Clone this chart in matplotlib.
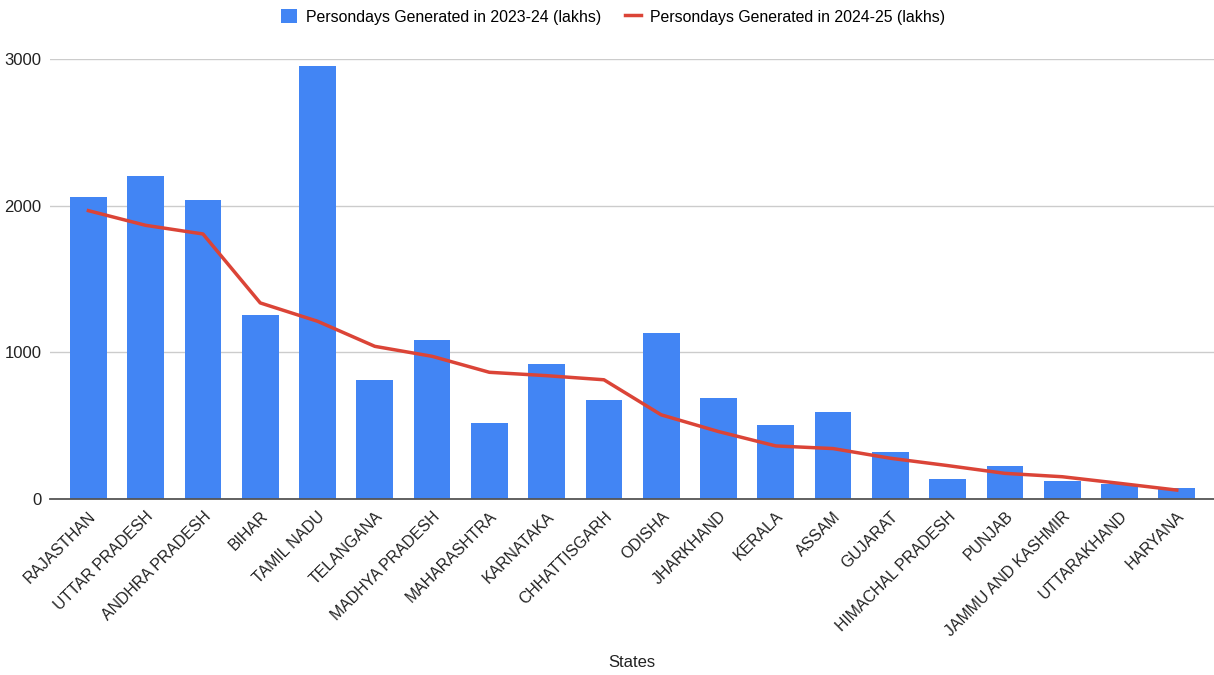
import numpy as np
import matplotlib.pyplot as plt

plt.rcParams['font.family'] = ['Liberation Sans', 'DejaVu Sans']

states = ['RAJASTHAN', 'UTTAR PRADESH', 'ANDHRA PRADESH', 'BIHAR', 'TAMIL NADU',
          'TELANGANA', 'MADHYA PRADESH', 'MAHARASHTRA', 'KARNATAKA', 'CHHATTISGARH',
          'ODISHA', 'JHARKHAND', 'KERALA', 'ASSAM', 'GUJARAT',
          'HIMACHAL PRADESH', 'PUNJAB', 'JAMMU AND KASHMIR', 'UTTARAKHAND', 'HARYANA']

# persondays in lakhs
pd_2324 = [2057, 2203, 2039, 1256, 2951, 813, 1085, 517, 923, 677,
           1133, 688, 508, 590, 321, 139, 223, 123, 105, 75]
pd_2425 = [1966, 1866, 1807, 1337, 1212, 1041, 973, 864, 841, 813,
           574, 460, 362, 344, 278, 228, 175, 152, 107, 61]

x = np.arange(len(states))

fig = plt.figure(figsize=(12.14, 6.75), dpi=100)
ax = fig.add_axes([0.0412, 0.2607, 0.9588, 0.6519])

b = ax.bar(x, pd_2324, width=0.64, color='#4285F4', label='Persondays Generated in 2023-24 (lakhs)', zorder=2)
l, = ax.plot(x, pd_2425, color='#DB4437', lw=2.5, label='Persondays Generated in 2024-25 (lakhs)', zorder=3)

ax.set_ylim(0, 3000)
ax.set_xlim(-0.67, 19.65)
ax.set_yticks([0, 1000, 2000, 3000])
ax.yaxis.grid(True, color='#cccccc', lw=1)
ax.set_axisbelow(True)
for s in ['left', 'right', 'top']:
    ax.spines[s].set_visible(False)
ax.spines['bottom'].set_color('#555555')
ax.spines['bottom'].set_linewidth(1.3)
ax.tick_params(axis='y', length=0, labelsize=12, colors='#222222', pad=6)
ax.tick_params(axis='x', length=0, labelsize=11.4, colors='#222222', pad=7)
ax.set_xticks(x)
ax.set_xticklabels(states, rotation=45, ha='right', rotation_mode='anchor')
ax.set_xlabel('States', fontsize=12, color='#222222')
ax.xaxis.set_label_coords(0.5, -0.355)

fig.legend([b, l], [b.get_label(), l.get_label()],
           loc='center', bbox_to_anchor=(0.505, 0.975), ncol=2, frameon=False,
           fontsize=11.4, handlelength=1.0, handleheight=1.0, columnspacing=1.5, handletextpad=0.6)

plt.savefig('out.png', dpi=100)
